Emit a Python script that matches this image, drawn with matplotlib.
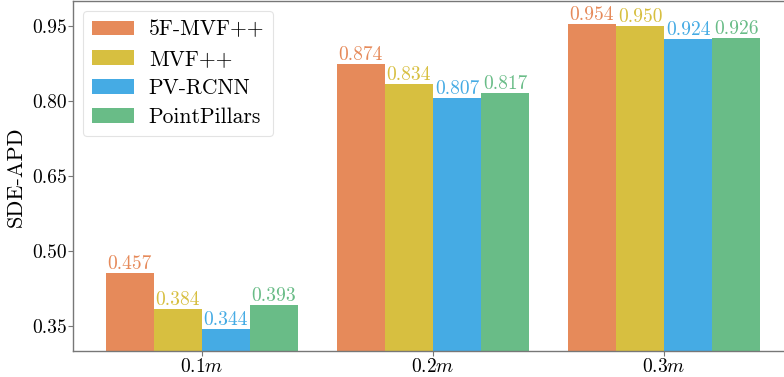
import numpy as np
import matplotlib.pyplot as plt

plt.rcParams['font.family'] = 'serif'
plt.rcParams['font.serif'] = ['cmr10']
plt.rcParams['mathtext.fontset'] = 'cm'
plt.rcParams['axes.unicode_minus'] = False

groups = [r'$0.1m$', r'$0.2m$', r'$0.3m$']
methods = ['5F-MVF++', 'MVF++', 'PV-RCNN', 'PointPillars']
vals_5f = [0.457, 0.874, 0.954]
vals_mvf = [0.384, 0.834, 0.950]
vals_pv = [0.344, 0.807, 0.924]
vals_pp = [0.393, 0.817, 0.926]
yticks = [0.35, 0.50, 0.65, 0.80, 0.95]

colors = ['#E68A5A', '#D7BF40', '#45ABE4', '#69BC87']
series = [vals_5f, vals_mvf, vals_pv, vals_pp]

fig = plt.figure(figsize=(7.84, 3.77), dpi=100)
ax = fig.add_axes([73 / 784, 1 - 351 / 377, 720 / 784, 350 / 377 - 0.001])

x = np.arange(len(groups))
w = 0.208
for k, (vals, c, name) in enumerate(zip(series, colors, methods)):
    bars = ax.bar(x + (k - 1.5) * w, vals, w, color=c, label=name,
                  linewidth=0)
    ax.bar_label(bars, labels=[f'{v:.3f}' for v in vals], color=c,
                 fontsize=14, padding=0)

ax.set_xlim(-0.558, 2.558)
ax.set_ylim(0.30, 1.0)
ax.set_xticks(x)
ax.set_xticklabels(groups, fontsize=14)
ax.set_yticks(yticks)
ax.set_yticklabels([f'{t:.2f}' for t in yticks], fontsize=14)
ax.set_ylabel('SDE-APD', fontsize=16)
ax.yaxis.set_label_coords(-0.066, 0.5)

for s in ax.spines.values():
    s.set_color('#777777')
    s.set_linewidth(1.0)
ax.tick_params(colors='black', length=3.5, color='#777777')
ax.tick_params(axis='y', pad=1.0)
ax.tick_params(axis='x', pad=1.5)

leg = ax.legend(loc='upper left', fontsize=15.5, frameon=True, fancybox=True,
                edgecolor='#dddddd', handlelength=1.95, handleheight=0.68,
                borderpad=0.42, labelspacing=0.45, handletextpad=0.7,
                borderaxespad=0.45)
leg.get_frame().set_linewidth(0.8)

fig.savefig('out.png', dpi=100)
